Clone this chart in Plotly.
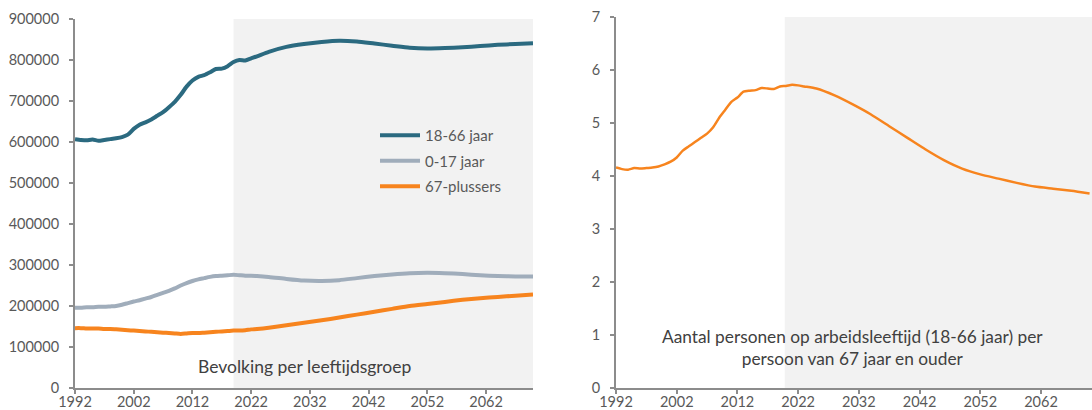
import plotly.graph_objects as go

years = list(range(1992, 2024)) + [2025, 2028, 2031, 2034, 2037, 2040, 2043, 2046,
                                   2049, 2052, 2055, 2058, 2061, 2064, 2067, 2070]

age_18_66 = [607000, 605000, 604000, 606000, 603000, 605000, 607000, 609000, 612000, 618000,
             632000, 642000, 648000, 655000, 664000, 673000, 685000, 698000, 715000, 735000,
             750000, 759000, 763000, 770000, 778000, 779000, 785000, 795000, 800000, 799000,
             804000, 809000,
             820000, 832000, 839000, 844000, 847000, 845000, 840000, 835000, 830000, 828000,
             829000, 831000, 834000, 837000, 839000, 841000]

age_0_17 = [196000, 196000, 197000, 197000, 198000, 198000, 199000, 200000, 203000, 207000,
            211000, 214000, 218000, 222000, 227000, 232000, 237000, 243000, 250000, 256000,
            261000, 265000, 268000, 271000, 273000, 274000, 275000, 276000, 275000, 274000,
            274000, 273000,
            271000, 266000, 262000, 261000, 263000, 268000, 273000, 277000, 280000, 281000,
            280000, 278000, 275000, 273000, 272000, 272000]

age_67_plus = [146000, 146000, 145000, 145000, 145000, 144000, 144000, 143000, 142000, 141000,
               140000, 139000, 138000, 137000, 136000, 135000, 134000, 133000, 132000, 133000,
               134000, 134000, 135000, 136000, 137000, 138000, 139000, 140000, 140000, 141000,
               143000, 144000,
               147000, 153000, 159000, 165000, 172000, 179000, 186000, 193000, 200000, 205000,
               210000, 215000, 219000, 222000, 225000, 228000]

ratio = [4.16, 4.13, 4.12, 4.15, 4.14, 4.15, 4.16, 4.18, 4.22, 4.27,
         4.35, 4.48, 4.56, 4.64, 4.72, 4.80, 4.92, 5.10, 5.25, 5.40,
         5.48, 5.59, 5.61, 5.62, 5.66, 5.65, 5.64, 5.69, 5.70, 5.72,
         5.71, 5.69,
         5.65, 5.52, 5.35, 5.16, 4.94, 4.72, 4.50, 4.30, 4.14, 4.03,
         3.95, 3.87, 3.80, 3.76, 3.72, 3.67]

x_ticks = [1992, 2002, 2012, 2022, 2032, 2042, 2052, 2062]
y_ticks_left = [0, 100000, 200000, 300000, 400000, 500000, 600000, 700000, 800000, 900000]
y_ticks_right = [0, 1, 2, 3, 4, 5, 6, 7]

C_DARK = "#2b6a80"
C_GREY = "#a0adbb"
C_ORANGE = "#f7841e"
AXIS = "#8c8c8c"
TICKFONT = dict(family="Lato", size=14.5, color="#595959")

W, H = 1092, 410
fig = go.Figure()

fig.add_trace(go.Scatter(x=years, y=age_18_66, name="18-66 jaar", mode="lines",
                         line=dict(color=C_DARK, width=4, shape="spline", smoothing=0.6),
                         legendgroup="a", xaxis="x", yaxis="y"))
fig.add_trace(go.Scatter(x=years, y=age_0_17, name="0-17 jaar", mode="lines",
                         line=dict(color=C_GREY, width=4, shape="spline", smoothing=0.6),
                         legendgroup="b", xaxis="x", yaxis="y"))
fig.add_trace(go.Scatter(x=years, y=age_67_plus, name="67-plussers", mode="lines",
                         line=dict(color=C_ORANGE, width=4, shape="spline", smoothing=0.6),
                         legendgroup="c", xaxis="x", yaxis="y"))
fig.add_trace(go.Scatter(x=years, y=ratio, name="ratio", mode="lines", showlegend=False,
                         line=dict(color=C_ORANGE, width=2.5, shape="spline", smoothing=0.6),
                         xaxis="x2", yaxis="y2"))

# shaded projection periods
fig.add_shape(type="rect", xref="x", yref="y domain", x0=2019, x1=2070, y0=0, y1=1,
              fillcolor="#f2f2f2", line=dict(width=0), layer="below")
fig.add_shape(type="rect", xref="x2", yref="y2 domain", x0=2019.8, x1=2070.4, y0=0, y1=1,
              fillcolor="#f2f2f2", line=dict(width=0), layer="below")

axis_common = dict(showgrid=False, zeroline=False, showline=True, linecolor=AXIS, linewidth=2,
                   ticks="outside", tickcolor=AXIS, ticklen=4, tickwidth=1.5, tickfont=TICKFONT,
                   automargin=False)

top, bottom = 17, 22
plot_h = H - top - bottom
fig.update_layout(
    width=W, height=H,
    margin=dict(l=0, r=0, t=top, b=bottom, autoexpand=False),
    paper_bgcolor="white", plot_bgcolor="white",
    showlegend=True,
    legend=dict(x=375 / W, y=1 - (119 - top) / plot_h, xanchor="left", yanchor="top",
                bgcolor="rgba(0,0,0,0)", font=dict(family="Lato", size=15, color="#595959"),
                tracegroupgap=3, itemwidth=40),
    xaxis=dict(domain=[75 / W, 533 / W], range=[1992, 2070], tickvals=x_ticks,
               anchor="y", ticklabelstandoff=-4, **axis_common),
    yaxis=dict(domain=[0, 1 - 2 / plot_h], range=[0, 900000], tickvals=y_ticks_left,
               tickformat="d", anchor="x", ticklabelstandoff=7, **axis_common),
    xaxis2=dict(domain=[616 / W, 1.0], range=[1992, 2070.4], tickvals=x_ticks,
                anchor="y2", ticklabelstandoff=-4, **axis_common),
    yaxis2=dict(domain=[0, 1], range=[0, 7], tickvals=y_ticks_right, anchor="x2",
                ticklabelstandoff=7, **axis_common),
    annotations=[
        dict(text="Bevolking per leeftijdsgroep", xref="paper", yref="paper",
             x=305 / W, y=1 - (366 - top) / plot_h, xanchor="center", yanchor="middle",
             showarrow=False, font=dict(family="Lato", size=17.5, color="#404040")),
        dict(text="Aantal personen op arbeidsleeftijd (18-66 jaar) per<br>persoon van 67 jaar en ouder",
             xref="paper", yref="paper", x=852 / W, y=1 - (347 - top) / plot_h,
             xanchor="center", yanchor="middle", showarrow=False,
             font=dict(family="Lato", size=17.3, color="#404040")),
    ],
)

fig.write_html("out.html", config={"displayModeBar": False},
               post_script="document.body.style.margin='0';")
